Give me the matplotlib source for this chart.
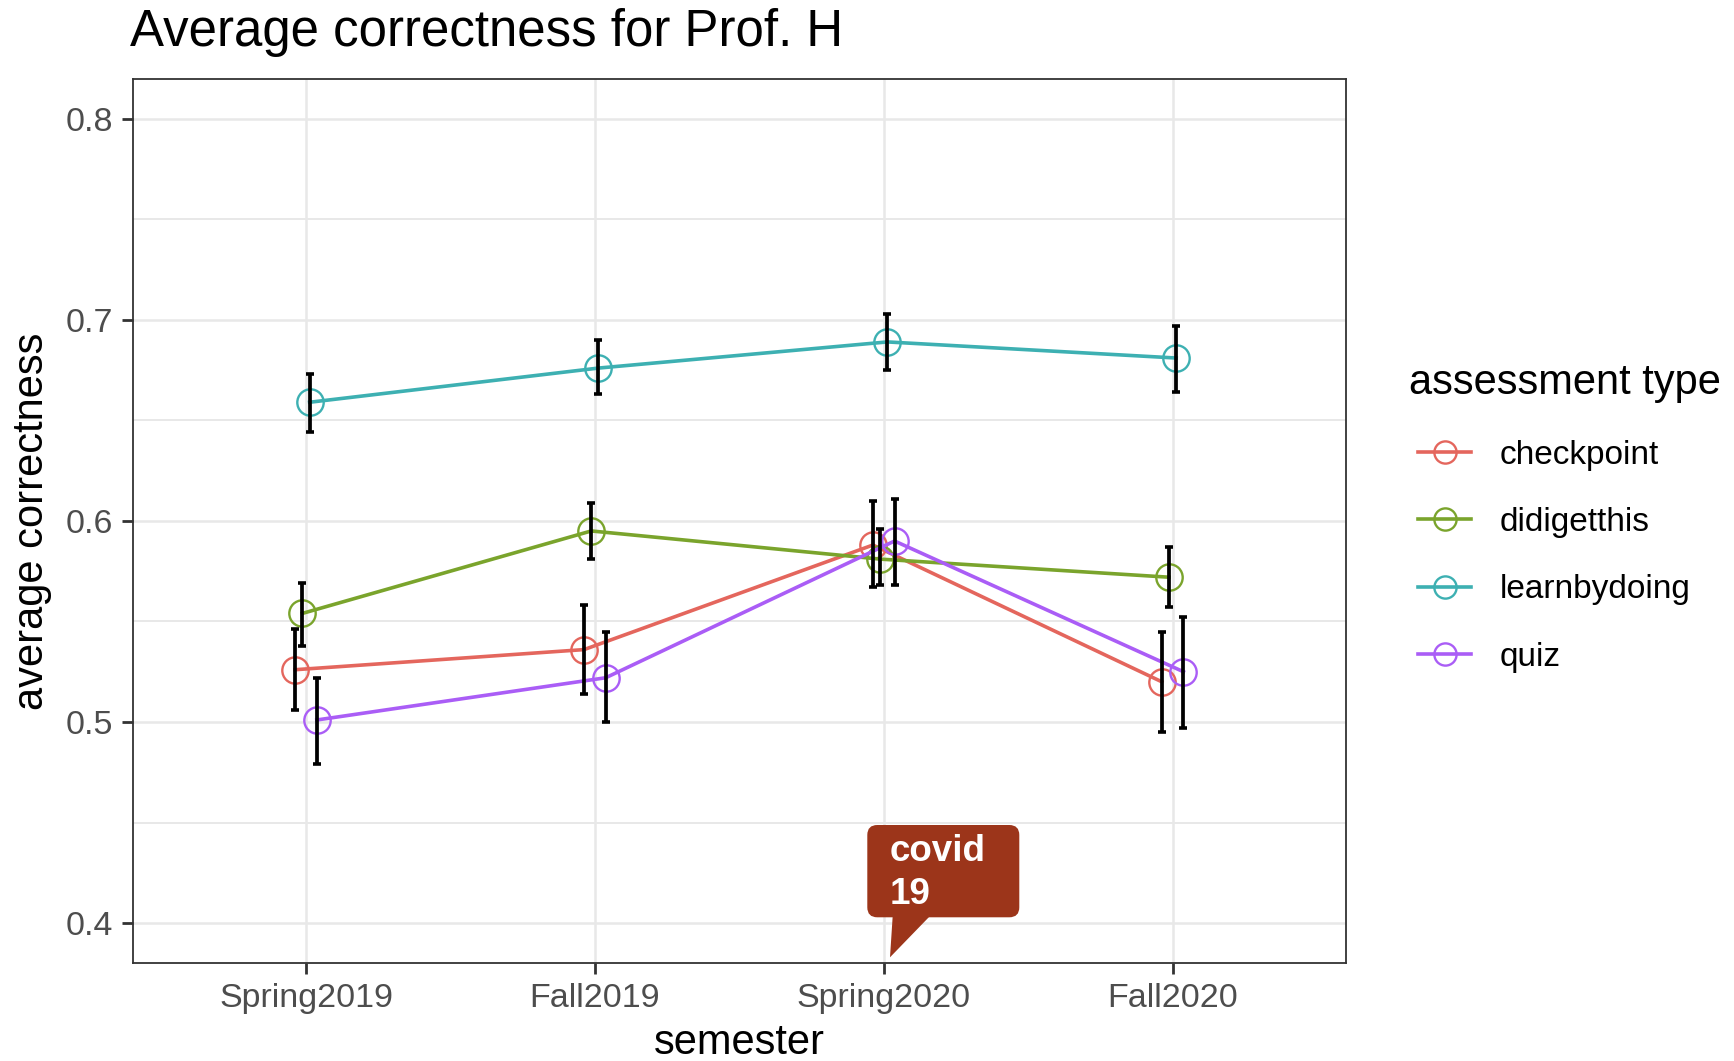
import matplotlib
matplotlib.use("Agg")
import matplotlib.pyplot as plt
import matplotlib.transforms as mtransforms
import numpy as np
from matplotlib.lines import Line2D
from matplotlib.patches import FancyBboxPatch, Polygon

plt.rcParams['font.family'] = ['Liberation Sans', 'DejaVu Sans']

# ---------------- data ----------------
semesters = ["Spring2019", "Fall2019", "Spring2020", "Fall2020"]
types = ["checkpoint", "didigetthis", "learnbydoing", "quiz"]

checkpoint = [0.526, 0.536, 0.588, 0.520]
checkpoint_lo = [0.506, 0.514, 0.567, 0.495]
checkpoint_hi = [0.546, 0.558, 0.610, 0.545]

didigetthis = [0.554, 0.595, 0.581, 0.572]
didigetthis_lo = [0.538, 0.581, 0.568, 0.557]
didigetthis_hi = [0.569, 0.609, 0.596, 0.587]

learnbydoing = [0.659, 0.676, 0.689, 0.681]
learnbydoing_lo = [0.644, 0.663, 0.675, 0.664]
learnbydoing_hi = [0.673, 0.690, 0.703, 0.697]

quiz = [0.501, 0.522, 0.590, 0.525]
quiz_lo = [0.479, 0.500, 0.568, 0.497]
quiz_hi = [0.522, 0.545, 0.611, 0.552]

y_ticks = [0.4, 0.5, 0.6, 0.7, 0.8]
y_minor = [0.45, 0.55, 0.65, 0.75]

colors = ["#E4665D", "#7AA42C", "#3DB0B2", "#AA5DF6"]
series = [
    (checkpoint, checkpoint_lo, checkpoint_hi),
    (didigetthis, didigetthis_lo, didigetthis_hi),
    (learnbydoing, learnbydoing_lo, learnbydoing_hi),
    (quiz, quiz_lo, quiz_hi),
]

W, H = 1734, 1061
fig = plt.figure(figsize=(W / 100, H / 100), dpi=100)
ax = fig.add_axes([132.7 / W, 1 - 963.3 / H, (1345.9 - 132.7) / W, (963.3 - 78.5) / H])

# grid
for yv in y_minor:
    ax.axhline(yv, color="#E8E8E8", lw=1.4, zorder=0)
for yv in y_ticks:
    ax.axhline(yv, color="#E8E8E8", lw=1.8, zorder=0)
base_x = np.arange(1, len(semesters) + 1)
for xv in base_x:
    ax.axvline(xv, color="#E8E8E8", lw=1.8, zorder=0)

# dodge
dodge_width = 0.1
n = len(types)
for i, ((vals, lo, hi), c) in enumerate(zip(series, colors)):
    off = (i - (n - 1) / 2) * dodge_width / n
    x = base_x + off
    v = np.array(vals)
    ax.plot(x, v, color=c, lw=2.6, marker="o", ms=19, mfc="none", mec=c, mew=1.7, zorder=3)
    ax.errorbar(x, v, yerr=[v - np.array(lo), np.array(hi) - v], fmt="none",
                ecolor="black", elinewidth=2.7, capsize=2.6, capthick=2.6, zorder=4)

ax.set_xlim(0.4, 4.6)
ax.set_ylim(0.38, 0.82)
ax.set_xticks(base_x)
ax.set_xticklabels(semesters)
ax.set_yticks(y_ticks)
ax.set_yticklabels([f"{t:.1f}" for t in y_ticks])
ax.tick_params(axis="both", length=8, width=2, color="#333333", labelsize=24.5,
               labelcolor="#4D4D4D", pad=6)
for s in ax.spines.values():
    s.set_color("#333333")
    s.set_linewidth(1.3)

ax.set_xlabel("semester", fontsize=30, labelpad=6.5)
ax.set_ylabel("average correctness", fontsize=30, labelpad=10)

fig.text(130 / W, 1 - 46 / H, "Average correctness for Prof. H", fontsize=36.7,
         ha="left", va="baseline")

# legend (title drawn as its own text so the keys can be indented like ggplot)
fig.text(1409 / W, 1 - 363 / H, "assessment type", fontsize=30, ha="left", va="top")
handles = [Line2D([], [], color=c, marker="o", ms=16, mfc="none", mec=c, mew=1.7, lw=2.6)
           for c in colors]
fig.legend(handles, types, loc="upper left", bbox_to_anchor=(1418 / W, 1 - 439.5 / H),
           frameon=False, fontsize=24,
           handlelength=1.6, handletextpad=0.84, labelspacing=1.09, borderpad=0,
           borderaxespad=0)

# covid callout (pixel coordinates, y measured from top)
pix = mtransforms.Affine2D().scale(1 / W, -1 / H).translate(0, 1) + fig.transFigure
bubble_color = "#9C351A"
box = FancyBboxPatch((867.3, 825), 1019.3 - 867.3, 917.3 - 825,
                     boxstyle="round,pad=0,rounding_size=10", transform=pix,
                     fc=bubble_color, ec="none", zorder=6)
fig.patches.append(box)
tail = Polygon([(892.7, 916), (930, 916), (890, 957.3)], closed=True, transform=pix,
               fc=bubble_color, ec="none", zorder=6)
fig.patches.append(tail)
fig.text(890 / W, 1 - 873 / H, "covid\n19", fontsize=26.5, fontweight="bold", color="white",
         ha="left", va="center", linespacing=1.3, zorder=7)

fig.savefig("out.png", dpi=100)
